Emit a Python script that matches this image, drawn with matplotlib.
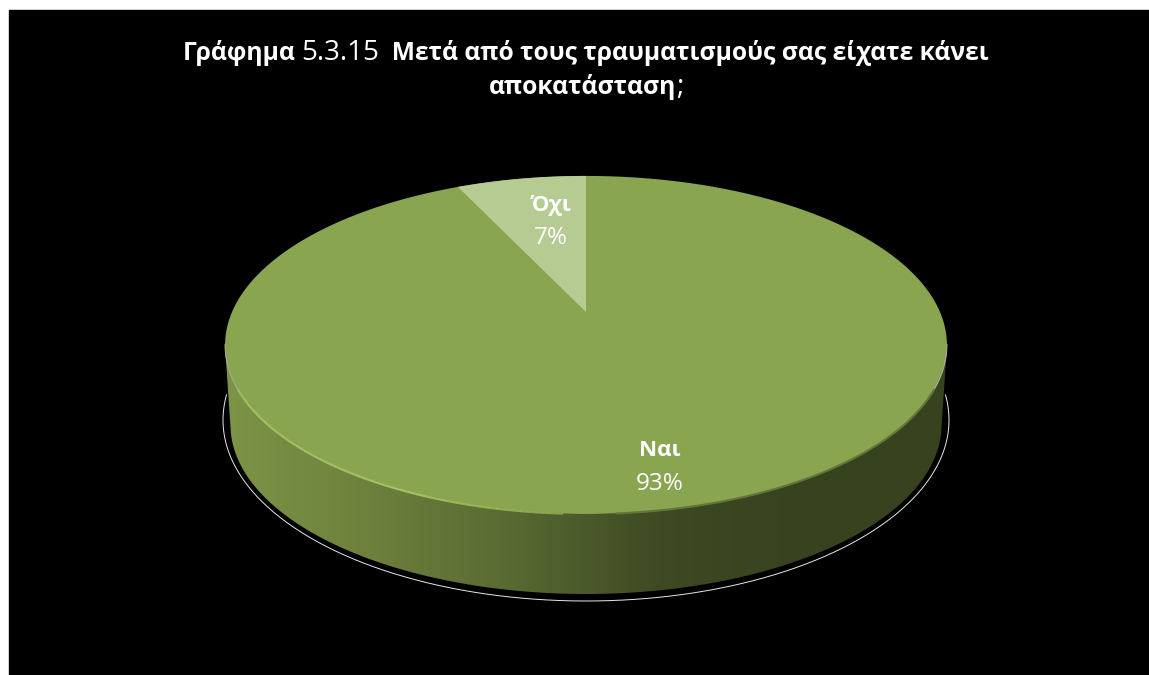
import matplotlib
matplotlib.use("Agg")
import matplotlib.pyplot as plt
import numpy as np
from matplotlib.collections import LineCollection
from matplotlib.colors import to_rgb
from matplotlib.patches import Polygon, Rectangle

W, H = 1149, 675

categories = ["Ναι", "Όχι"]
shares = [93, 7]
title_parts = [
    [("Γράφημα ", "bold"), ("5.3.15", "normal"),
     ("  Μετά από τους τραυματισμούς σας είχατε κάνει", "bold")],
    [("αποκατάσταση", "bold"), (";", "normal")],
]
title_baselines = [60, 94]

# tilted disc: centre of the slices on screen, half width, perspective
cx, cy = 586, 312
a, b, k = 354, 162.6, 0.195
depth = 80


def disc_point(angle):
    # angle in degrees, clockwise from the top of the disc
    u = np.sin(np.radians(angle))
    v = np.cos(np.radians(angle))
    w = 1 + k * v
    return cx + a * u / w, cy - b * v / w


def edge(start, stop, n=400):
    x, y = disc_point(np.linspace(start, stop, n))
    return np.column_stack([x, y])


plt.rcParams['font.family'] = ['Open Sans', 'DejaVu Sans']
fig = plt.figure(figsize=(W / 100, H / 100), dpi=100, facecolor='white')
ax = fig.add_axes([0, 0, 1, 1])
ax.set_xlim(0, W)
ax.set_ylim(H, 0)
ax.axis('off')
ax.add_patch(Rectangle((9, 10), W - 9, H - 10, color='black', zorder=0))

# side wall with a left to right shade, its lower edge a bit narrower than the top
rim = edge(0, 360)
front = rim[(rim[:, 1] > 345)]
front = front[np.argsort(front[:, 0])]
lower = front + [0, depth]
lower[:, 0] = 586 + (lower[:, 0] - 586) * 0.985
wall = np.vstack([front, lower[::-1]])
shade = np.array([[125, 148, 71], [109, 128, 60], [88, 105, 50],
                  [62, 74, 35], [55, 66, 31], [55, 66, 31]]) / 255
pos = np.linspace(0, 1, W // 2)
grad = np.column_stack([np.interp(pos, np.linspace(0, 1, 6), shade[:, i]) for i in range(3)])
im = ax.imshow(grad[np.newaxis, :, :], extent=[225, 947, 600, 345], aspect='auto', zorder=1)
im.set_clip_path(Polygon(wall, transform=ax.transData))
ax.set_xlim(0, W)
ax.set_ylim(H, 0)

# thin white outline under the wall
t = np.radians(np.linspace(-8, 188, 300))
ax.plot(586 + 363 * np.cos(t), 420 + 181 * np.sin(t), color='#e8e8e8', lw=0.7, zorder=1.5)
for side in (edge(244, 259, 40), edge(101, 116, 40)):
    ax.plot(side[:, 0], side[:, 1], color='#b0b0b0', lw=0.7, zorder=3)

# top face, one polygon per slice
colors = ['#8aa54f', '#b6cb92']
start = 360 - shares[1] * 3.6
ax.add_patch(Polygon(rim, color=colors[0], zorder=2, lw=0))
slice_edge = edge(start, 360, 60)
ax.add_patch(Polygon(np.vstack([[cx, cy], slice_edge]), color=colors[1], zorder=3, lw=0))

# lighter rim along the lower left, fading out towards the front
hi = edge(183, 244, 200)
segs = np.stack([hi[:-1], hi[1:]], axis=1)
fade = np.clip(np.linspace(0, 3, len(segs)), 0, 1)[:, np.newaxis]
ax.add_collection(LineCollection(segs, colors=(1 - fade) * np.array(to_rgb(colors[0]))
                                 + fade * np.array(to_rgb('#a6c566')), lw=1.5, zorder=3))

# soft edge on the dark side
soft = edge(116, 176, 200)
ax.plot(soft[:, 0], soft[:, 1], color='#62763a', lw=1.5, zorder=3)

ax.text(660, 450, categories[0], color='white', fontsize=16, fontweight='bold', ha='center', va='center', zorder=4)
ax.text(660, 484, f"{shares[0]}%", color='white', fontsize=17.5, ha='center', va='center', zorder=4)
ax.text(551, 205, categories[1], color='white', fontsize=16, fontweight='bold', ha='center', va='center', zorder=4)
ax.text(551, 238, f"{shares[1]}%", color='white', fontsize=17.5, ha='center', va='center', zorder=4)

# title lines mix bold and regular runs, so lay the runs out by width
sizes = {"bold": 17.7, "normal": 20}
fig.canvas.draw()
rend = fig.canvas.get_renderer()
for parts, base in zip(title_parts, title_baselines):
    widths = []
    for s, weight in parts:
        probe = ax.text(0, 0, s.replace(" ", "\u00a0"), fontsize=sizes[weight], fontweight=weight)
        widths.append(probe.get_window_extent(rend).width)
        probe.remove()
    x = 586 - sum(widths) / 2
    for (s, weight), wd in zip(parts, widths):
        ax.text(x, base, s.replace(" ", "\u00a0"), color='white', fontsize=sizes[weight], fontweight=weight,
                ha='left', va='baseline', zorder=4)
        x += wd

fig.savefig('out.png', dpi=100)
